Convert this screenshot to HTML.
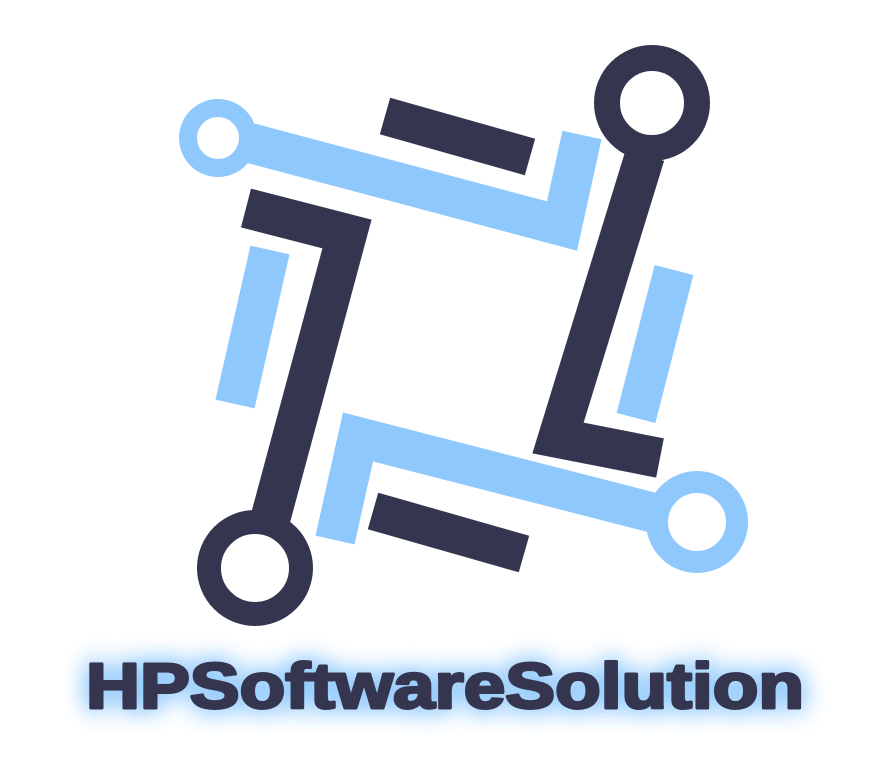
<!DOCTYPE html>
<html><head><meta charset="utf-8"><style>
html,body{margin:0;padding:0;background:#fff;}
svg{display:block;}
</style></head><body>
<svg width="880" height="758" viewBox="0 0 880 758" xmlns="http://www.w3.org/2000/svg">
<defs>
<filter id="glow" x="-10%" y="-60%" width="120%" height="220%">
<feGaussianBlur in="SourceAlpha" stdDeviation="12" result="b"/>
<feFlood flood-color="#8ec8fc" flood-opacity="1"/>
<feComposite in2="b" operator="in" result="g"/>
<feMerge><feMergeNode in="g"/><feMergeNode in="g"/><feMergeNode in="SourceGraphic"/></feMerge>
</filter>
</defs>
<g fill="none" stroke-linejoin="miter" stroke-linecap="butt">
<polyline points="250,143 562,226 582,135" stroke="#8ec8fc" stroke-width="40"/>
<circle cx="218" cy="138" r="30" stroke="#8ec8fc" stroke-width="18"/>
<line x1="385" y1="116" x2="530" y2="157" stroke="#343650" stroke-width="38"/>
<polyline points="645,155 558,438 660,458" stroke="#343650" stroke-width="40"/>
<circle cx="652" cy="103" r="45" stroke="#343650" stroke-width="26"/>
<line x1="674" y1="270" x2="636" y2="418" stroke="#8ec8fc" stroke-width="40"/>
<polyline points="246,208 347,234 270,520" stroke="#343650" stroke-width="40"/>
<circle cx="255" cy="568" r="46" stroke="#343650" stroke-width="24"/>
<line x1="270" y1="250" x2="235" y2="404" stroke="#8ec8fc" stroke-width="40"/>
<polyline points="335,540 358,437 662,515" stroke="#8ec8fc" stroke-width="40"/>
<circle cx="697" cy="522" r="40" stroke="#8ec8fc" stroke-width="22"/>
<line x1="373" y1="511" x2="524" y2="554" stroke="#343650" stroke-width="38"/>
</g>
<text x="86" y="708" font-family="Liberation Sans, sans-serif" font-weight="bold" font-size="64" fill="#343650" stroke="#343650" stroke-width="3" stroke-linejoin="round" textLength="718" lengthAdjust="spacingAndGlyphs" filter="url(#glow)">HPSoftwareSolution</text>
</svg>
</body></html>
